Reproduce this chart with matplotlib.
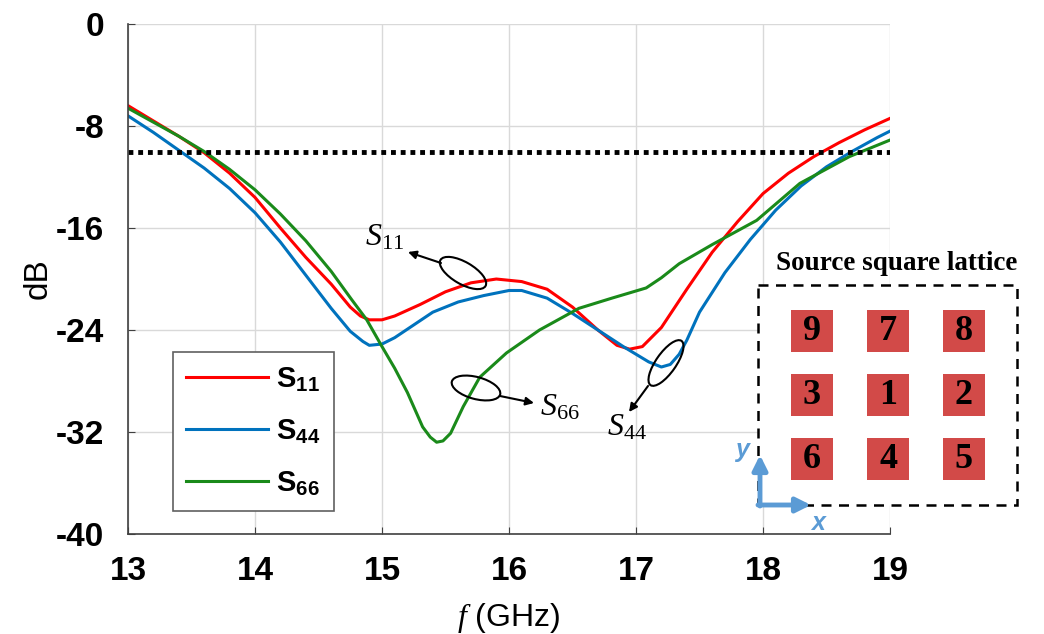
import numpy as np
import matplotlib.pyplot as plt
from matplotlib.patches import Ellipse, Rectangle

plt.rcParams['font.family'] = ['Liberation Sans', 'DejaVu Sans']
plt.rcParams['mathtext.fontset'] = 'custom'
plt.rcParams['mathtext.rm'] = 'Liberation Serif'
plt.rcParams['mathtext.it'] = 'Liberation Serif:italic'
plt.rcParams['mathtext.bf'] = 'Liberation Sans:bold'
plt.rcParams['axes.unicode_minus'] = False

# S11
f11 = [13.0, 13.2, 13.4, 13.6, 13.8, 14.0, 14.2, 14.4, 14.6, 14.75, 14.83, 14.9, 15.0, 15.1,
       15.3, 15.5, 15.7, 15.9, 16.1, 16.3, 16.5, 16.7, 16.85, 16.95, 17.05, 17.2, 17.4,
       17.6, 17.8, 18.0, 18.2, 18.4, 18.6, 18.8, 19.0]
s11 = [-6.4, -7.6, -8.8, -10.1, -11.7, -13.6, -16.0, -18.3, -20.4, -22.2, -22.9, -23.2, -23.2, -22.9,
       -22.0, -21.0, -20.3, -20.0, -20.2, -20.8, -22.2, -24.0, -25.2, -25.5, -25.3, -23.8, -20.8,
       -17.9, -15.5, -13.3, -11.7, -10.4, -9.3, -8.3, -7.4]

# S44
f44 = [13.0, 13.2, 13.4, 13.6, 13.8, 14.0, 14.2, 14.4, 14.6, 14.75, 14.85, 14.9, 15.0, 15.1,
       15.25, 15.4, 15.6, 15.8, 16.0, 16.1, 16.3, 16.5, 16.7, 16.9, 17.1, 17.2, 17.27, 17.34,
       17.4, 17.5, 17.7, 17.9, 18.1, 18.3, 18.5, 18.7, 18.9, 19.0]
s44 = [-7.2, -8.5, -9.9, -11.3, -12.9, -14.8, -17.1, -19.7, -22.3, -24.1, -24.9, -25.2, -25.1, -24.6,
       -23.6, -22.6, -21.8, -21.3, -20.9, -20.9, -21.5, -22.7, -24.0, -25.3, -26.5, -26.9, -26.7, -25.9,
       -24.8, -22.6, -19.5, -16.9, -14.6, -12.7, -11.2, -10.0, -8.9, -8.4]

# S66
f66 = [13.0, 13.2, 13.4, 13.6, 13.8, 14.0, 14.2, 14.4, 14.6, 14.76, 14.88, 15.0, 15.1,
       15.2, 15.32, 15.38, 15.43, 15.48, 15.54, 15.64, 15.77, 15.98, 16.24, 16.55, 16.81,
       17.08, 17.2, 17.34, 17.6, 17.95, 18.29, 18.68, 19.0]
s66 = [-6.6, -7.7, -8.8, -10.0, -11.4, -13.0, -14.9, -17.0, -19.4, -21.6, -23.2, -25.3, -27.0,
       -28.9, -31.6, -32.4, -32.8, -32.7, -32.1, -30.0, -27.7, -25.8, -24.0, -22.3, -21.5,
       -20.7, -19.9, -18.8, -17.3, -15.4, -12.5, -10.4, -9.1]

threshold = -10
xticks = [13, 14, 15, 16, 17, 18, 19]
yticks = [-40, -32, -24, -16, -8, 0]
lattice = [[9, 7, 8], [3, 1, 2], [6, 4, 5]]

fig = plt.figure(figsize=(10.44, 6.34), dpi=100)
ax = fig.add_axes([0.1226, 0.1577, 0.7299, 0.8044])

ax.plot(f11, s11, color='#ff0000', lw=2.2, label=r'$\mathbf{S_{11}}$')
ax.plot(f44, s44, color='#0072bd', lw=2.2, label=r'$\mathbf{S_{44}}$')
ax.plot(f66, s66, color='#1a8a1a', lw=2.2, label=r'$\mathbf{S_{66}}$')
ax.axhline(threshold, color='k', lw=3.5, ls=(0, (1, 1)), dash_capstyle='butt')

ax.set_xlim(13, 19)
ax.set_ylim(-40, 0)
ax.set_xticks(xticks)
ax.set_yticks(yticks)
ax.grid(color='#d9d9d9', lw=1)
ax.set_axisbelow(True)
for s in ['top', 'right']:
    ax.spines[s].set_visible(False)
for s in ['left', 'bottom']:
    ax.spines[s].set_color('#404040')
    ax.spines[s].set_linewidth(1.2)
ax.tick_params(direction='in', length=5, color='#404040', labelsize=24)
ax.tick_params(axis='x', pad=16)
ax.tick_params(axis='y', pad=17)
for lbl in ax.get_xticklabels() + ax.get_yticklabels():
    lbl.set_fontweight('bold')
ax.set_xlabel(r'$f$ (GHz)', fontsize=23, labelpad=10)
ax.set_ylabel('dB', fontsize=24, labelpad=2)

leg = ax.legend(loc='upper left', bbox_to_anchor=(0.059, 0.357), borderaxespad=0,
                fontsize=21, handlelength=2.8, handletextpad=0.3, labelspacing=0.8,
                borderpad=0.45, fancybox=False, edgecolor='#606060', framealpha=1)
leg.get_frame().set_linewidth(1.2)

# overlay in pixel coordinates for annotations and lattice sketch
ov = fig.add_axes([0, 0, 1, 1], zorder=5)
ov.set_xlim(0, 1044)
ov.set_ylim(634, 0)
ov.axis('off')
ov.patch.set_alpha(0)

arr = dict(arrowstyle='-|>', color='k', lw=1.5, mutation_scale=12, shrinkA=0, shrinkB=0)
ov.add_patch(Ellipse((463, 273), 52, 22, angle=30, fill=False, ec='k', lw=1.5))
ov.annotate('', xy=(408, 252), xytext=(441, 263), arrowprops=arr)
ov.text(385, 237, r'$S_{11}$', fontsize=23, ha='center', va='center')

ov.add_patch(Ellipse((476, 388), 50, 22, angle=15, fill=False, ec='k', lw=1.5))
ov.annotate('', xy=(534, 403), xytext=(500, 396), arrowprops=arr)
ov.text(560, 407, r'$S_{66}$', fontsize=23, ha='center', va='center')

ov.add_patch(Ellipse((666, 363), 54, 20, angle=-55, fill=False, ec='k', lw=1.5))
ov.annotate('', xy=(629, 412), xytext=(648, 386), arrowprops=arr)
ov.text(627, 428, r'$S_{44}$', fontsize=23, ha='center', va='center')

# source square lattice
ov.add_patch(Rectangle((758, 285), 259, 220, fc='white', ec='k', lw=1.8, ls=(0, (4, 3))))
ov.text(897, 264, 'Source square lattice', family='Liberation Serif', fontweight='bold',
        fontsize=19.5, ha='center', va='center')
for i, row in enumerate(lattice):
    for j, num in enumerate(row):
        cx = 812 + 76 * j
        cy = 331 + 64 * i
        ov.add_patch(Rectangle((cx - 21, cy - 21), 42, 42, fc='#d24a48', ec='none'))
        ov.text(cx, cy + 1, str(num), family='Liberation Serif', fontweight='bold',
                fontsize=26, ha='center', va='center')

blue = '#5b9bd5'
barr = dict(arrowstyle='-|>', color=blue, lw=3.5, mutation_scale=22, shrinkA=0, shrinkB=0)
ov.annotate('', xy=(760, 455), xytext=(760, 506), arrowprops=barr)
ov.annotate('', xy=(811, 505), xytext=(758, 505), arrowprops=barr)
ov.text(742, 450, 'y', color=blue, fontsize=18, fontweight='bold', style='italic',
        ha='center', va='center')
ov.text(818, 523, 'x', color=blue, fontsize=18, fontweight='bold', style='italic',
        ha='center', va='center')

fig.savefig('out.png', dpi=100)
